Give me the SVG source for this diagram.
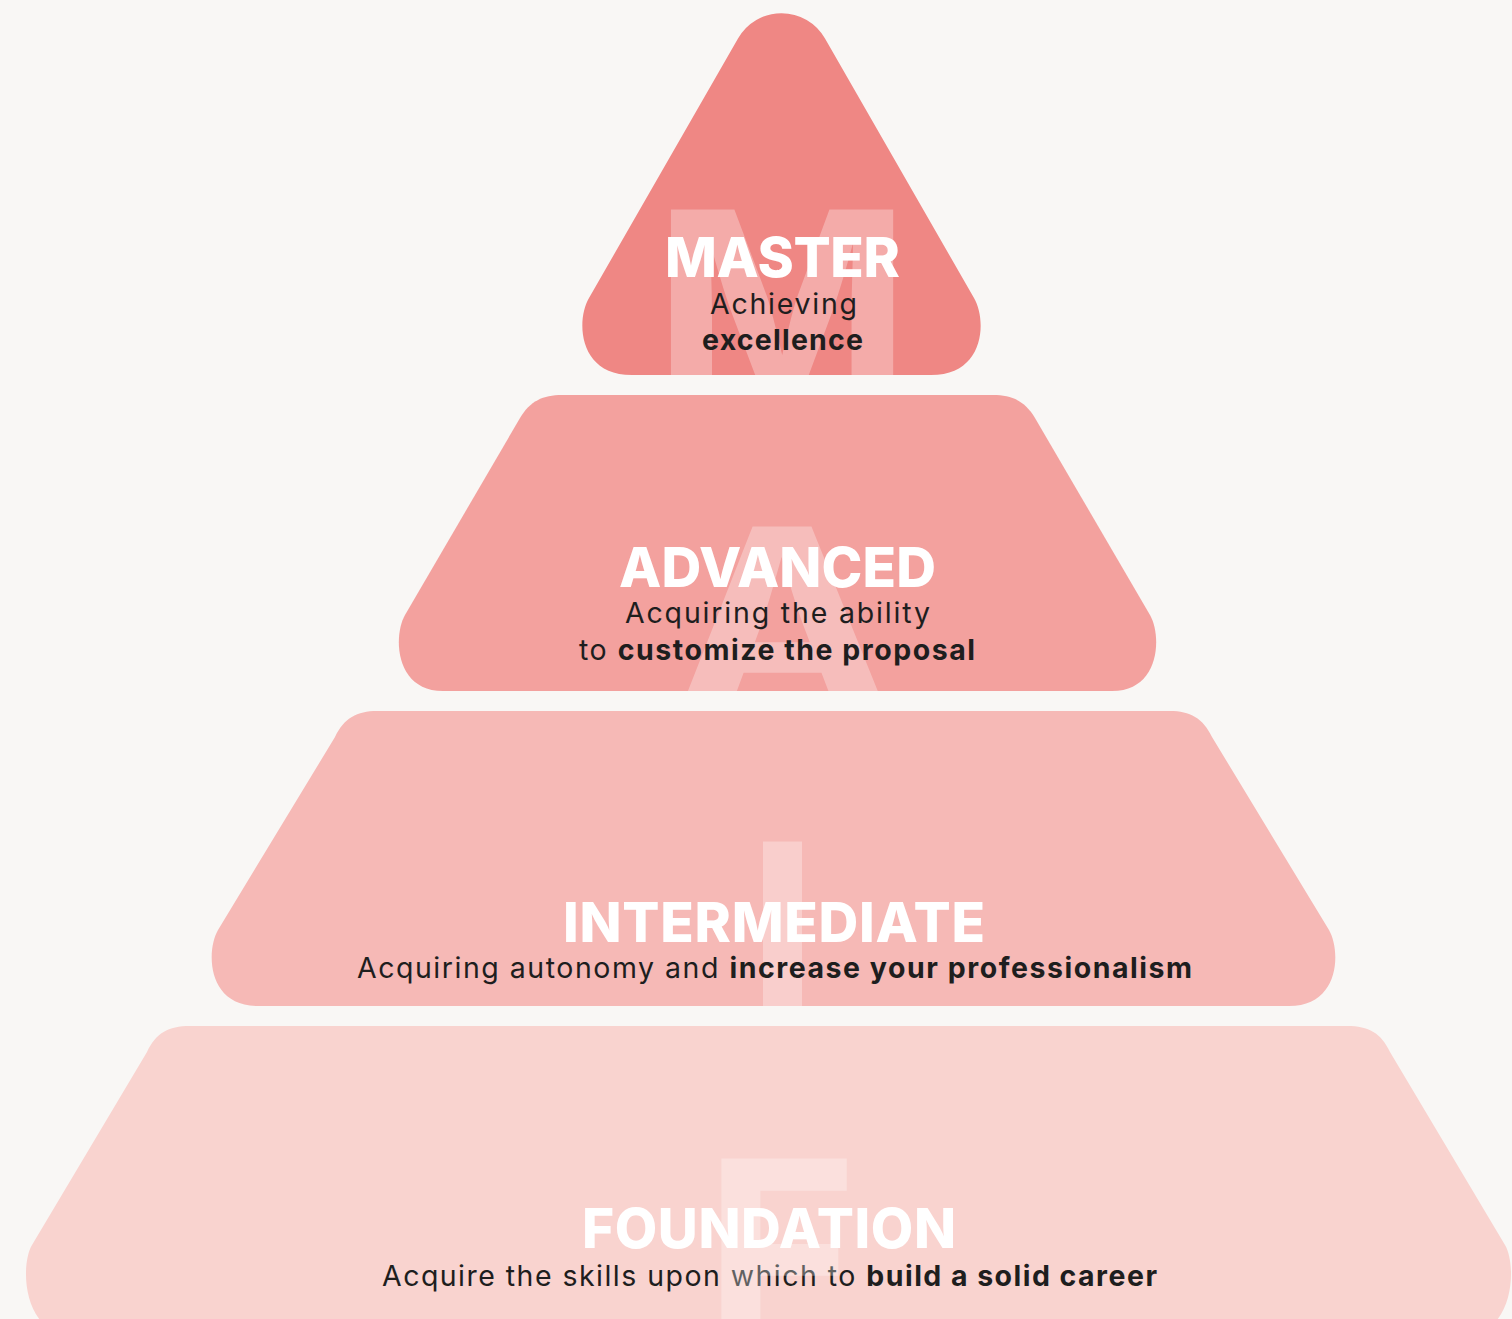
<svg xmlns="http://www.w3.org/2000/svg" width="1512" height="1319" viewBox="0 0 1512 1319">
<style>
.title{font-family:Inter,"Liberation Sans",sans-serif;font-weight:800;font-size:55px;fill:#FFFFFF;text-anchor:middle}
.sub{font-family:Inter,"Liberation Sans",sans-serif;font-weight:400;font-size:28.5px;fill:#1E1E1E;text-anchor:middle}
.b{font-weight:700}
.big{font-family:Inter,"Liberation Sans",sans-serif;font-weight:700;font-size:262px;fill:#FFFFFF;fill-opacity:0.3;text-anchor:middle}
</style>
<defs>
<path id="pM" d="M738,38.5 A50,50 0 0 1 825,38.5 L974,298 C987,320 985,375 931,375 L632,375 C578,375 576,320 589,298 Z"/>
<path id="pA" d="M562,395 L993,395 C1012,395 1025,401 1035,418 L1150,615 C1162,636 1160,691 1112,691 L443,691 C395,691 393,636 405,615 L520,418 C530,401 543,395 562,395 Z"/>
<path id="pI" d="M377,711 L1170,711 C1190,711 1203,718 1212,737 L1329,930 C1341,951 1340,1006 1289,1006 L258,1006 C207,1006 206,951 218,930 L335,737 C344,718 357,711 377,711 Z"/>
<path id="pF" d="M190,1026 L1347,1026 C1369,1026 1381,1033 1390,1052 L1505,1245 C1517,1265 1515,1336 1462,1336 L75,1336 C22,1336 20,1265 32,1245 L147,1052 C156,1033 168,1026 190,1026 Z"/>
<clipPath id="cM"><use href="#pM"/></clipPath>
<clipPath id="cA"><use href="#pA"/></clipPath>
<clipPath id="cI"><use href="#pI"/></clipPath>
<clipPath id="cF"><use href="#pF"/></clipPath>
</defs>
<rect x="0" y="0" width="1512" height="1319" fill="#F9F7F5"/>

<g id="foundation">
<use href="#pF" fill="#F9D3CF"/>
<text class="title" x="769" y="1248" textLength="374">FOUNDATION</text>
<text class="sub" x="769.5" y="1286" textLength="775">Acquire the skills upon which to <tspan class="b">build a solid career</tspan></text>
<g clip-path="url(#cF)"><text class="big" x="781" y="1349">F</text></g>
</g>

<g id="intermediate">
<use href="#pI" fill="#F6B9B6"/>
<g clip-path="url(#cI)"><text class="big" x="782.5" y="1032">I</text></g>
<text class="title" x="774" y="942" textLength="422">INTERMEDIATE</text>
<text class="sub" x="774.5" y="978" textLength="835">Acquiring autonomy and <tspan class="b">increase your professionalism</tspan></text>
</g>

<g id="advanced">
<use href="#pA" fill="#F3A19E"/>
<g clip-path="url(#cA)"><text class="big" x="783" y="717" transform="translate(783,0) scale(1.15,1) translate(-783,0)">A</text></g>
<text class="title" x="777.5" y="587" textLength="317">ADVANCED</text>
<text class="sub" x="777.5" y="623" textLength="305">Acquiring the ability</text>
<text class="sub" x="777" y="660" textLength="396">to <tspan class="b">customize the proposal</tspan></text>
</g>

<g id="master">
<use href="#pM" fill="#EF8784"/>
<g clip-path="url(#cM)"><text class="big" x="782" y="400" transform="translate(782,0) scale(1.06,1) translate(-782,0)">M</text></g>
<text class="title" x="782.5" y="277" textLength="235">MASTER</text>
<text class="sub" x="783.5" y="314" textLength="147">Achieving</text>
<text class="sub b" x="782.5" y="350" textLength="161">excellence</text>
</g>

<g id="connectors"></g>
</svg>
